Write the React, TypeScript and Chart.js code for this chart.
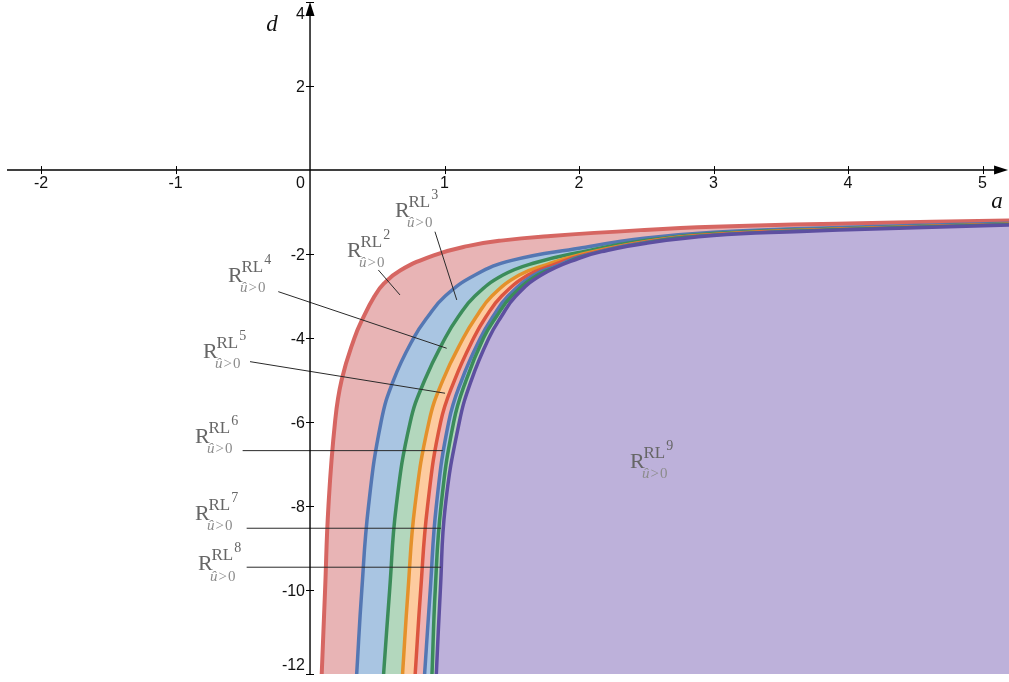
import React, { useEffect, useRef } from "react";
import { Chart, registerables } from "chart.js";

Chart.register(...registerables);

// Visible window of the (a, d) plane
const A_MIN = -2.305;
const A_MAX = 5.197;
const D_MIN = -12;
const D_MAX = 4.05;

// Extent of the drawn axis lines (arrow tips at the upper ends)
const aAxisSpan = [-2.253, 5.19];
const dAxisSpan = [-12, 4.0];

// Tick values
const aTicks = [-2, -1, 1, 2, 3, 4, 5];
const dTicks = [4, 2, -2, -4, -6, -8, -10, -12];

// Boundary curves [a, d], from the outermost (RL2) to the innermost (RL9)
const rl2Edge = [
  [0.087, -12], [0.112, -10], [0.137, -8], [0.186, -6], [0.235, -5], [0.33, -4],
  [0.39, -3.55], [0.48, -3.0], [0.55, -2.7], [0.67, -2.39], [0.92, -2.03],
  [1.17, -1.81], [1.42, -1.68], [1.79, -1.57], [2.46, -1.43], [3, -1.35],
  [4, -1.27], [5.25, -1.2],
];
const rl3Edge = [
  [0.347, -12], [0.385, -10], [0.435, -8], [0.528, -6], [0.621, -5], [0.77, -4],
  [0.874, -3.5], [1.005, -3], [1.227, -2.5], [1.5, -2.15], [2.0, -1.86],
  [2.5, -1.62], [3, -1.48], [4, -1.36], [5.25, -1.26],
];
const rl4Edge = [
  [0.547, -12], [0.592, -10], [0.641, -8], [0.745, -6], [0.853, -5], [1.005, -4],
  [1.101, -3.5], [1.226, -3], [1.435, -2.5], [1.68, -2.2], [2.0, -1.96],
  [2.5, -1.67], [3, -1.51], [4, -1.39], [5.25, -1.28],
];
const rl5Edge = [
  [0.688, -12], [0.729, -10], [0.78, -8], [0.884, -6], [0.988, -5], [1.14, -4],
  [1.235, -3.5], [1.352, -3], [1.556, -2.5], [1.76, -2.25], [2.0, -2.02],
  [2.5, -1.7], [3, -1.533], [4, -1.4], [5.25, -1.287],
];
const rl6Edge = [
  [0.782, -12], [0.823, -10], [0.874, -8], [0.971, -6], [1.075, -5], [1.217, -4],
  [1.307, -3.5], [1.425, -3], [1.621, -2.5], [1.8, -2.27], [2.0, -2.05],
  [2.5, -1.714], [3, -1.543], [4, -1.408], [5.25, -1.292],
];
const rl7Edge = [
  [0.852, -12], [0.894, -10], [0.939, -8], [1.031, -6], [1.128, -5], [1.267, -4],
  [1.358, -3.5], [1.472, -3], [1.665, -2.5], [1.83, -2.29], [2.0, -2.07],
  [2.5, -1.726], [3, -1.55], [4, -1.413], [5.25, -1.296],
];
const rl8Edge = [
  [0.907, -12], [0.931, -10], [0.974, -8], [1.068, -6], [1.161, -5], [1.29, -4],
  [1.384, -3.5], [1.499, -3], [1.693, -2.5], [1.85, -2.3], [2.0, -2.087],
  [2.5, -1.734], [3, -1.556], [4, -1.417], [5.25, -1.298],
];
const rl9Edge = [
  [0.939, -12], [0.969, -10], [1.006, -8], [1.11, -6], [1.2, -5], [1.33, -4],
  [1.42, -3.5], [1.53, -3], [1.72, -2.5], [2.0, -2.1], [2.2, -1.92],
  [2.5, -1.74], [3, -1.56], [3.65, -1.46], [4, -1.42], [5.25, -1.3],
];

const edges = [rl2Edge, rl3Edge, rl4Edge, rl5Edge, rl6Edge, rl7Edge, rl8Edge, rl9Edge];
const edgeColors = ["#d66662", "#5477b3", "#3b8c5a", "#e4912b", "#dc553f", "#5477b3", "#3b8c5a", "#5d4fa0"];
const regionColors = ["#e8b4b5", "#a9c5e2", "#b3d7bd", "#fdcb9f", "#f0b3b2", "#a9c5e2", "#b3d7bd", "#bdb1da"];

// Region labels: index n, anchor of the "R" (a, d), optional leader line [a1, d1, a2, d2]
const labelIndex = [2, 3, 4, 5, 6, 7, 8, 9];
const labelAnchors = [
  [0.275, -2.069], [0.632, -1.117], [-0.61, -2.664], [-0.796, -4.474],
  [-0.855, -6.498], [-0.855, -8.331], [-0.833, -9.526], [2.379, -7.093],
];
const labelLeaders = [
  [0.508, -2.379, 0.669, -2.974],
  [0.929, -1.467, 1.091, -3.093],
  [-0.236, -2.895, 1.016, -4.243],
  [-0.446, -4.562, 1.004, -5.314],
  [-0.501, -6.681, 0.987, -6.681],
  [-0.471, -8.529, 0.974, -8.529],
  [-0.471, -9.457, 0.974, -9.457],
  null,
];

const TICK_FONT = '16px "Liberation Sans", Arial, sans-serif';
const SERIF = '"Liberation Serif", "Times New Roman", serif';

function drawRegionLabel(ctx: CanvasRenderingContext2D, px: number, py: number, n: number) {
  ctx.textAlign = "left";
  ctx.textBaseline = "alphabetic";
  ctx.fillStyle = "#666666";
  ctx.font = `22px ${SERIF}`;
  ctx.fillText("R", px, py);
  ctx.font = `17px ${SERIF}`;
  ctx.fillText("RL", px + 13.5, py - 10);
  const rlW = ctx.measureText("RL").width;
  ctx.font = `14px ${SERIF}`;
  ctx.fillText(String(n), px + 14.5 + rlW, py - 18);
  ctx.fillStyle = "#8c8c8c";
  ctx.font = `italic 15px ${SERIF}`;
  const sx = px + 12;
  ctx.fillText("\u00fb", sx, py + 10.5);
  const uW = ctx.measureText("\u00fb").width;
  ctx.font = `15px ${SERIF}`;
  ctx.fillText(">", sx + uW + 1, py + 10.5);
  const gW = ctx.measureText(">").width;
  ctx.fillText("0", sx + uW + gW + 2, py + 10.5);
}

const overlayPlugin = {
  id: "axesAndLabels",
  afterDatasetsDraw(chart: any) {
    const { ctx } = chart;
    const xs = chart.scales.x;
    const ys = chart.scales.y;
    const X = (v: number) => xs.getPixelForValue(v);
    const Y = (v: number) => ys.getPixelForValue(v);
    const ox = X(0);
    const oy = Y(0);
    ctx.save();

    // leader lines
    ctx.strokeStyle = "#2a2a2a";
    ctx.lineWidth = 1;
    labelLeaders.forEach((l) => {
      if (!l) return;
      ctx.beginPath();
      ctx.moveTo(X(l[0]), Y(l[1]));
      ctx.lineTo(X(l[2]), Y(l[3]));
      ctx.stroke();
    });

    // region labels
    labelIndex.forEach((n, i) => {
      drawRegionLabel(ctx, X(labelAnchors[i][0]), Y(labelAnchors[i][1]), n);
    });

    // axis lines
    ctx.strokeStyle = "#000";
    ctx.fillStyle = "#000";
    ctx.lineWidth = 1.4;
    const xEnd = X(aAxisSpan[1]);
    const yEnd = Y(dAxisSpan[1]);
    ctx.beginPath();
    ctx.moveTo(X(aAxisSpan[0]), oy);
    ctx.lineTo(xEnd - 8, oy);
    ctx.moveTo(ox, Y(dAxisSpan[0]));
    ctx.lineTo(ox, yEnd + 8);
    ctx.stroke();
    // arrow heads
    ctx.beginPath();
    ctx.moveTo(xEnd, oy);
    ctx.lineTo(xEnd - 14, oy - 4.5);
    ctx.lineTo(xEnd - 14, oy + 4.5);
    ctx.closePath();
    ctx.fill();
    ctx.beginPath();
    ctx.moveTo(ox, yEnd);
    ctx.lineTo(ox - 4.5, yEnd + 14);
    ctx.lineTo(ox + 4.5, yEnd + 14);
    ctx.closePath();
    ctx.fill();

    // ticks
    ctx.lineWidth = 1;
    ctx.beginPath();
    aTicks.forEach((t) => {
      const px = Math.round(X(t)) + 0.5;
      ctx.moveTo(px, oy - 4);
      ctx.lineTo(px, oy + 4);
    });
    dTicks.forEach((t) => {
      const py = Math.round(Y(t)) + 0.5;
      ctx.moveTo(ox - 4, py);
      ctx.lineTo(ox + 4, py);
    });
    ctx.stroke();

    // tick labels
    ctx.font = TICK_FONT;
    ctx.fillStyle = "#111";
    ctx.textBaseline = "alphabetic";
    ctx.textAlign = "center";
    aTicks.forEach((t) => {
      ctx.fillText(String(t), X(t), oy + 18);
    });
    ctx.textAlign = "right";
    ctx.fillText("0", ox - 5, oy + 18);
    dTicks.forEach((t) => {
      const py = Math.min(Math.max(Y(t), 13), 664);
      ctx.fillText(String(t), ox - 5, py + 6);
    });

    // axis titles
    ctx.font = `italic 23px ${SERIF}`;
    ctx.textAlign = "center";
    ctx.fillText("d", X(-0.283), Y(3.31));
    ctx.fillText("a", X(5.108), Y(-0.905));

    ctx.restore();
  },
};

export default function App() {
  const canvasRef = useRef<HTMLCanvasElement | null>(null);

  useEffect(() => {
    const canvas = canvasRef.current;
    if (!canvas) return;
    const datasets = edges
      .map((edge, i) => ({
        label: `RL${labelIndex[i]}`,
        data: edge.map(([a, d]) => ({ x: a, y: d })),
        borderColor: edgeColors[i],
        backgroundColor: regionColors[i],
        borderWidth: i === 0 ? 4 : 3.5,
        pointRadius: 0,
        fill: "start",
        tension: 0.45,
        clip: 0,
      }))
      .reverse();

    const chart = new Chart(canvas, {
      type: "line",
      data: { datasets },
      options: {
        animation: false,
        responsive: false,
        maintainAspectRatio: false,
        devicePixelRatio: 1,
        layout: { padding: { left: 0, right: 0, top: 0, bottom: 8 } },
        plugins: { legend: { display: false }, tooltip: { enabled: false } },
        scales: {
          x: { type: "linear", min: A_MIN, max: A_MAX, display: false },
          y: { type: "linear", min: D_MIN, max: D_MAX, display: false },
        },
      },
      plugins: [overlayPlugin],
    });
    return () => chart.destroy();
  }, []);

  return (
    <div style={{ position: "fixed", left: 0, top: 0, width: 1009, height: 682, background: "#fff" }}>
      <canvas ref={canvasRef} width={1009} height={682} style={{ display: "block" }} />
    </div>
  );
}
